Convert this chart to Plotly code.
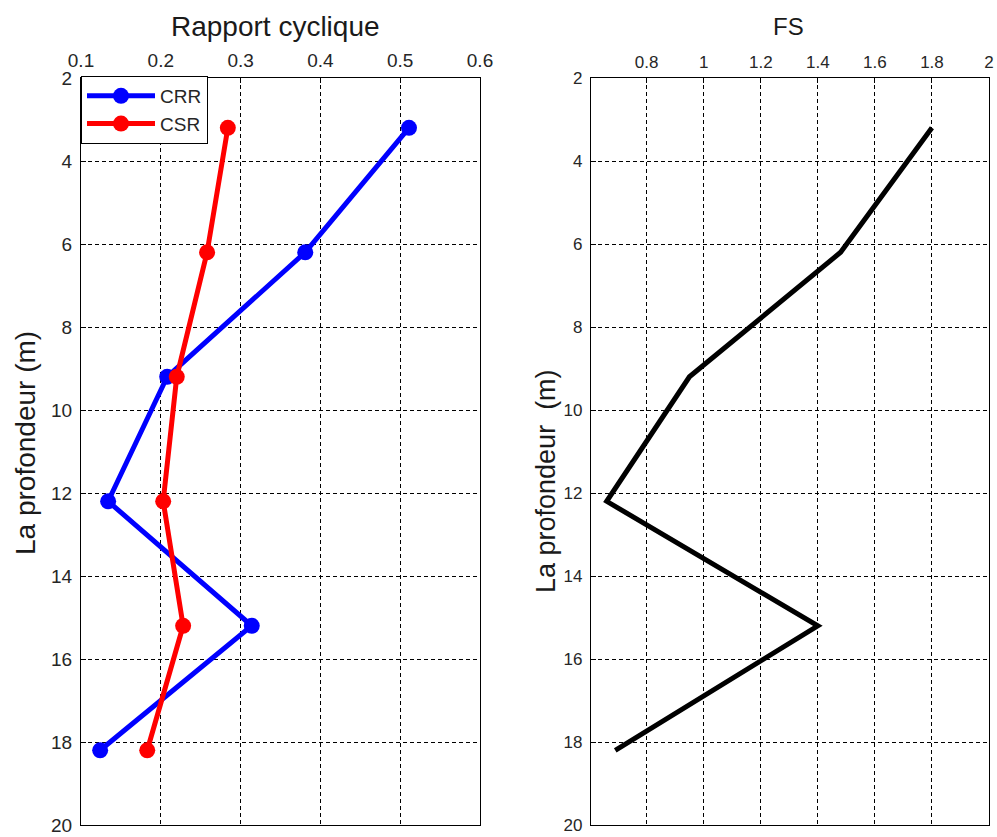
import plotly.graph_objects as go

depth = [3.2, 6.2, 9.2, 12.2, 15.2, 18.2]
crr = [0.511, 0.381, 0.208, 0.134, 0.314, 0.124]
csr = [0.284, 0.258, 0.220, 0.203, 0.228, 0.183]
fs = [1.80, 1.48, 0.95, 0.66, 1.40, 0.69]

left_xticks = [0.1, 0.2, 0.3, 0.4, 0.5, 0.6]
left_xlabels = ["0.1", "0.2", "0.3", "0.4", "0.5", "0.6"]
right_xticks = [0.8, 1.0, 1.2, 1.4, 1.6, 1.8, 2.0]
right_xlabels = ["0.8", "1", "1.2", "1.4", "1.6", "1.8", "2"]
yticks = [2, 4, 6, 8, 10, 12, 14, 16, 18, 20]

W, H = 997, 837
FONT = "Liberation Sans, Arial, sans-serif"

fig = go.Figure()
fig.add_trace(go.Scatter(x=crr, y=depth, name="CRR", mode="lines+markers",
                         line=dict(color="#0000ff", width=5),
                         marker=dict(color="#0000ff", size=16, symbol="circle"),
                         xaxis="x", yaxis="y"))
fig.add_trace(go.Scatter(x=csr, y=depth, name="CSR", mode="lines+markers",
                         line=dict(color="#ff0000", width=5),
                         marker=dict(color="#ff0000", size=16, symbol="circle"),
                         xaxis="x", yaxis="y"))
fig.add_trace(go.Scatter(x=fs, y=depth, name="FS", mode="lines",
                         line=dict(color="#000000", width=5),
                         showlegend=False, xaxis="x2", yaxis="y2"))

top = 1 - 78 / H
bot = 1 - 825 / H


def ax(size):
    return dict(showgrid=True, gridcolor="#000000", griddash="4px,3px", gridwidth=1.2,
                showline=True, linecolor="#000000", linewidth=1.2, mirror=True,
                ticks="inside", ticklen=5, tickcolor="#000000",
                tickfont=dict(family=FONT, size=size, color="#262626"),
                zeroline=False, automargin=False)


fig.update_layout(
    width=W, height=H,
    margin=dict(l=0, r=0, t=0, b=0),
    paper_bgcolor="white", plot_bgcolor="white",
    xaxis=dict(domain=[81 / W, 480 / W], range=[0.1, 0.6], side="top",
               tickvals=left_xticks, ticktext=left_xlabels, anchor="y",
               ticklabelstandoff=2, **ax(19)),
    yaxis=dict(domain=[bot, top], range=[20, 2], tickvals=yticks, anchor="x",
               ticklabelstandoff=4, **ax(19)),
    xaxis2=dict(domain=[591 / W, 989 / W], range=[0.605, 2.0], side="top",
                tickvals=right_xticks, ticktext=right_xlabels, anchor="y2",
                ticklabelstandoff=2, **ax(17)),
    yaxis2=dict(domain=[bot, top], range=[20, 2], tickvals=yticks, anchor="x2",
                ticklabelstandoff=4, **ax(17)),
    legend=dict(x=81 / W, y=1 - 76 / H, xanchor="left", yanchor="top",
                bordercolor="#000000", borderwidth=1, bgcolor="white",
                font=dict(family=FONT, size=19, color="#262626"),
                itemwidth=68, tracegroupgap=0),
    showlegend=True,
)

ann = dict(xref="paper", yref="paper", showarrow=False, xanchor="center", yanchor="middle")
fig.add_annotation(text="Rapport cyclique", x=275 / W, y=1 - 27 / H,
                   font=dict(family=FONT, size=28, color="#1a1a1a"), **ann)
fig.add_annotation(text="FS", x=788 / W, y=1 - 27 / H,
                   font=dict(family=FONT, size=24, color="#1a1a1a"), **ann)
fig.add_annotation(text="La profondeur (m)", x=26 / W, y=1 - 443 / H, textangle=-90,
                   font=dict(family=FONT, size=28, color="#1a1a1a"), **ann)
fig.add_annotation(text="La profondeur  (m)", x=546 / W, y=1 - 481 / H, textangle=-90,
                   font=dict(family=FONT, size=27, color="#1a1a1a"), **ann)

fig.write_html("out.html")
